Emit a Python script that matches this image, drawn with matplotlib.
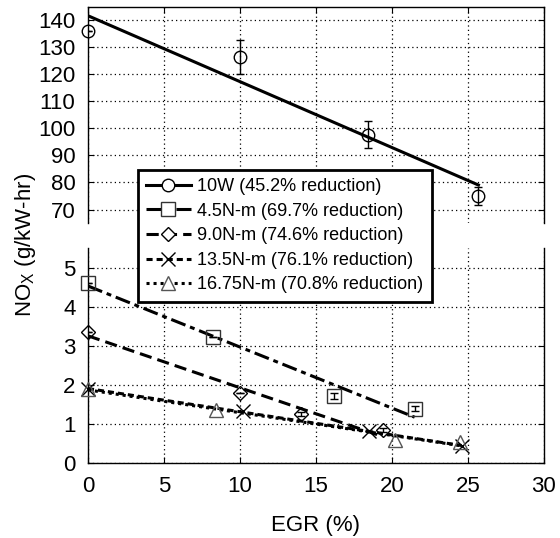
import numpy as np
import matplotlib.pyplot as plt
from matplotlib.lines import Line2D

plt.rcParams['font.family'] = ['Liberation Sans', 'DejaVu Sans']

# NOx vs EGR, one series per load
egr_10w = np.array([0, 10.0, 18.4, 25.7])
nox_10w = np.array([136.0, 126.5, 97.6, 75.0])
err_10w = np.array([0, 6.3, 5.0, 3.5])

egr_45 = np.array([0, 8.2, 16.2, 21.5])
nox_45 = np.array([4.61, 3.23, 1.72, 1.39])
err_45 = np.array([0, 0, 0.08, 0.07])

egr_90 = np.array([0, 10.0, 14.0, 19.4])
nox_90 = np.array([3.36, 1.79, 1.25, 0.85])
err_90 = np.array([0, 0, 0.06, 0.05])

egr_135 = np.array([0, 10.2, 18.5, 24.6])
nox_135 = np.array([1.89, 1.32, 0.82, 0.43])

egr_1675 = np.array([0, 8.4, 20.2, 24.5])
nox_1675 = np.array([1.90, 1.36, 0.60, 0.53])

labels = ["10W (45.2% reduction)", "4.5N-m (69.7% reduction)",
          "9.0N-m (74.6% reduction)", "13.5N-m (76.1% reduction)",
          "16.75N-m (70.8% reduction)"]

fig = plt.figure(figsize=(5.6, 5.38), dpi=100)
ax_top = fig.add_axes([0.157, 0.5855, 0.814, 0.4015])
ax_bot = fig.add_axes([0.157, 0.1394, 0.814, 0.3996])

lw = 2.2
styles = [
    dict(ls='-', marker='o', ms=9, mec='k'),
    dict(ls=(0, (5, 1.6, 1.6, 1.6)), marker='s', ms=10, mec='#333333'),
    dict(ls=(0, (4, 2)), marker='D', ms=7.5, mec='k'),
    dict(ls=(0, (2, 1.3)), marker='x', ms=10, mec='k'),
    dict(ls=(0, (1, 1.3)), marker='^', ms=10, mec='#555555'),
]

series = [
    (ax_top, egr_10w, nox_10w, err_10w),
    (ax_bot, egr_45, nox_45, err_45),
    (ax_bot, egr_90, nox_90, err_90),
    (ax_bot, egr_135, nox_135, None),
    (ax_bot, egr_1675, nox_1675, None),
]

for (ax, x, y, e), st in zip(series, styles):
    # linear fit drawn over the measured range
    k, b = np.polyfit(x, y, 1)
    xf = np.linspace(0, x.max(), 50)
    ax.plot(xf, k * xf + b, color='k', lw=lw, ls=st['ls'], zorder=3)
    ax.plot(x, y, ls='none', marker=st['marker'], ms=st['ms'], mfc='none',
            mec=st['mec'], mew=1.0, clip_on=False, zorder=4)
    if e is not None:
        ax.errorbar(x, y, yerr=e, fmt='none', ecolor='k', elinewidth=1,
                    capsize=3, capthick=1, zorder=4)

for ax in (ax_top, ax_bot):
    ax.set_xlim(0, 30)
    ax.set_xticks(range(0, 31, 5))
    ax.grid(True, color='k', ls=(0, (1, 2.5)), lw=0.9)
    ax.set_axisbelow(True)
    ax.tick_params(direction='in', length=4, labelsize=16, pad=9,
                   top=True, right=True)
    for s in ax.spines.values():
        s.set_linewidth(1.0)

ax_top.set_ylim(65, 145)
ax_top.set_yticks(range(70, 141, 10))
ax_top.spines['bottom'].set_visible(False)
ax_top.tick_params(bottom=False, labelbottom=False)

ax_bot.set_ylim(0, 5.5)
ax_bot.set_yticks(range(0, 6))
ax_bot.spines['top'].set_visible(False)
ax_bot.tick_params(top=False)
ax_bot.set_xlabel("EGR (%)", fontsize=16, labelpad=13)

fig.text(0.045, 0.545, "NO$_\\mathregular{X}$ (g/kW-hr)", rotation=90,
         fontsize=16, ha='center', va='center')

handles = []
for st in styles:
    handles.append(Line2D([], [], color='k', lw=lw, ls=st['ls'],
                          marker=st['marker'], ms=st['ms'], mfc='white',
                          mec=st['mec'], mew=1.0))

leg = fig.legend(handles, labels, loc='upper left',
                 bbox_to_anchor=(0.246, 0.684), fontsize=13,
                 frameon=True, fancybox=False, edgecolor='k',
                 framealpha=1, handlelength=2.5, handletextpad=0.35,
                 labelspacing=0.42, borderpad=0.45, borderaxespad=0,
                 numpoints=1)
leg.get_frame().set_linewidth(2)

fig.savefig("out.png", dpi=100)
